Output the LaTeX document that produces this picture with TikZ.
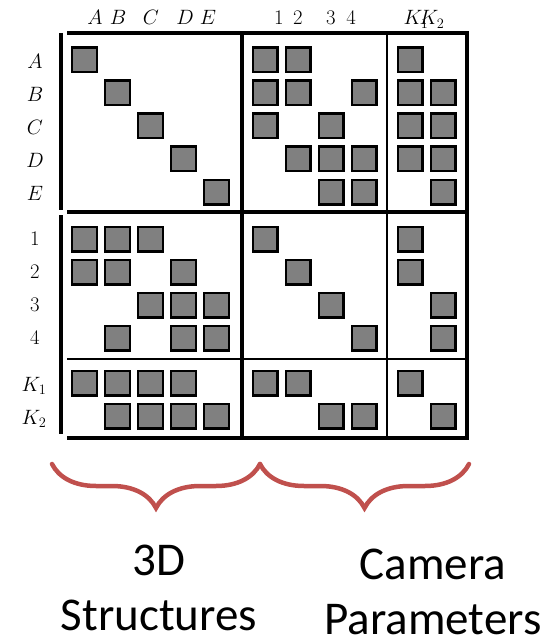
\documentclass[tikz,border=0pt]{standalone}
\usepackage{fontspec}
\newfontfamily\capfont{Carlito}
\usetikzlibrary{decorations.pathreplacing}

\definecolor{braceRed}{RGB}{192,80,77}

\tikzset{
  blk/.style={draw=black,fill=black!50,line width=2.4pt,minimum size=24.6pt,inner sep=0pt},
  lbl/.style={inner sep=0pt,font=\huge},
  heavy/.style={line width=3.2pt},
  light/.style={line width=1.8pt},
  curly/.style={decorate,decoration={brace,mirror,amplitude=44pt},
    draw=braceRed,line width=4.5pt,line cap=round},
  caption/.style={inner sep=0pt,align=center,font=\capfont\fontsize{47}{55}\selectfont}
}

\begin{document}
\begin{tikzpicture}[x=1pt,y=-1pt]
\useasboundingbox (0,0) rectangle (544,639);

        % frame of the matrix
        \draw[heavy,line cap=butt] (61,33) -- (61,210);
        \draw[heavy,line cap=butt] (61,215) -- (61,434);
        \draw[heavy] (67,33) -- (467,33) -- (467,438) -- (67,438);
        \draw[heavy] (67,212) -- (467,212);
        \draw[heavy] (242,33) -- (242,438);
        \draw[light] (67,359) -- (467,359);
        \draw[light] (387,33) -- (387,438);

        % column labels
        \begin{scope}[every node/.style={lbl,anchor=base}]
          \node (tA)  at (95,25)  {$A$};
          \node (tB)  at (118,25) {$B$};
          \node (tC)  at (151,25) {$C$};
          \node (tD)  at (185,25) {$D$};
          \node (tE)  at (208,25) {$E$};
          \node (t1)  at (279,25) {$1$};
          \node (t2)  at (298,25) {$2$};
          \node (t3)  at (331,25) {$3$};
          \node (t4)  at (351,25) {$4$};
          \node (tK1) at (416,25) {$K_1$};
          \node (tK2) at (432,25) {$K_2$};
        \end{scope}

        % row labels
        \begin{scope}[every node/.style={lbl}]
          \node (lA)  at (35,61)  {$A$};
          \node (lB)  at (35,94)  {$B$};
          \node (lC)  at (35,127) {$C$};
          \node (lD)  at (35,160) {$D$};
          \node (lE)  at (35,193) {$E$};
          \node (l1)  at (35,239) {$1$};
          \node (l2)  at (35,272) {$2$};
          \node (l3)  at (35,305) {$3$};
          \node (l4)  at (35,338) {$4$};
          \node (lK1) at (34,386) {$K_1$};
          \node (lK2) at (34,419) {$K_2$};
        \end{scope}

        % non-zero blocks
        \begin{scope}[every node/.style={blk}]
          \node (A-A)   at (84.5,60)  {};
          \node (A-1)   at (265,60)   {};
          \node (A-2)   at (298,60)   {};
          \node (A-K1)  at (410,60)   {};

          \node (B-B)   at (117.5,93) {};
          \node (B-1)   at (265,93)   {};
          \node (B-2)   at (298,93)   {};
          \node (B-4)   at (364,93)   {};
          \node (B-K1)  at (410,93)   {};
          \node (B-K2)  at (443,93)   {};

          \node (C-C)   at (150.5,126) {};
          \node (C-1)   at (265,126)  {};
          \node (C-3)   at (331,126)  {};
          \node (C-K1)  at (410,126)  {};
          \node (C-K2)  at (443,126)  {};

          \node (D-D)   at (183.5,159) {};
          \node (D-2)   at (298,159)  {};
          \node (D-3)   at (331,159)  {};
          \node (D-4)   at (364,159)  {};
          \node (D-K1)  at (410,159)  {};
          \node (D-K2)  at (443,159)  {};

          \node (E-E)   at (216.5,192) {};
          \node (E-3)   at (331,192)  {};
          \node (E-4)   at (364,192)  {};
          \node (E-K2)  at (443,192)  {};

          \node (1-A)   at (84.5,239) {};
          \node (1-B)   at (117.5,239) {};
          \node (1-C)   at (150.5,239) {};
          \node (1-1)   at (265,239)  {};
          \node (1-K1)  at (410,239)  {};

          \node (2-A)   at (84.5,272) {};
          \node (2-B)   at (117.5,272) {};
          \node (2-D)   at (183.5,272) {};
          \node (2-2)   at (298,272)  {};
          \node (2-K1)  at (410,272)  {};

          \node (3-C)   at (150.5,305) {};
          \node (3-D)   at (183.5,305) {};
          \node (3-E)   at (216.5,305) {};
          \node (3-3)   at (331,305)  {};
          \node (3-K2)  at (443,305)  {};

          \node (4-B)   at (117.5,338) {};
          \node (4-D)   at (183.5,338) {};
          \node (4-E)   at (216.5,338) {};
          \node (4-4)   at (364,338)  {};
          \node (4-K2)  at (443,338)  {};

          \node (K1-A)  at (84.5,383) {};
          \node (K1-B)  at (117.5,383) {};
          \node (K1-C)  at (150.5,383) {};
          \node (K1-D)  at (183.5,383) {};
          \node (K1-1)  at (265,383)  {};
          \node (K1-2)  at (298,383)  {};
          \node (K1-K1) at (410,383)  {};

          \node (K2-B)  at (117.5,416) {};
          \node (K2-C)  at (150.5,416) {};
          \node (K2-D)  at (183.5,416) {};
          \node (K2-E)  at (216.5,416) {};
          \node (K2-3)  at (331,416)  {};
          \node (K2-4)  at (364,416)  {};
          \node (K2-K2) at (443,416)  {};
        \end{scope}

        % braces and what they group
        \coordinate (bL) at (52,464);
        \coordinate (bM) at (260,464);
        \coordinate (bR) at (469,464);
        \draw[curly] (bL) -- (bM);
        \draw[curly] (bM) -- (bR);

        \node[caption,anchor=north] (structs) at (159,545) {3D\\Structures};
        \node[caption,anchor=north] (cams) at (433,549) {Camera\\Parameters};

      \end{tikzpicture}
\end{document}
